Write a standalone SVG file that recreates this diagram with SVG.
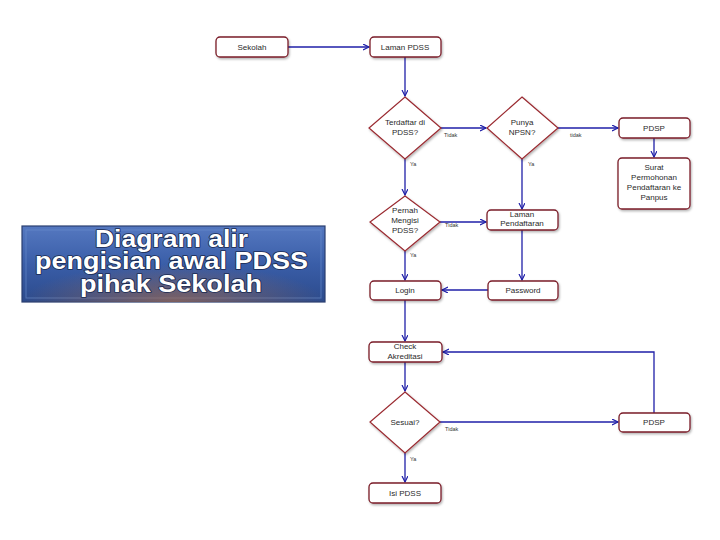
<svg xmlns="http://www.w3.org/2000/svg" width="720" height="540" viewBox="0 0 720 540">
<defs>
<marker id="ah" markerWidth="8" markerHeight="8" refX="6" refY="3" orient="auto" markerUnits="userSpaceOnUse">
<path d="M0,0 L6,3 L0,6" fill="none" stroke="#1f1fa8" stroke-width="1.2"/>
</marker>
<linearGradient id="tg" x1="0" y1="0" x2="0" y2="1">
<stop offset="0" stop-color="#5578c0"/>
<stop offset="0.5" stop-color="#3a5ea8"/>
<stop offset="1" stop-color="#2c4b8c"/>
</linearGradient>
<radialGradient id="tglow" cx="0.5" cy="1" r="0.5">
<stop offset="0" stop-color="#a06a50" stop-opacity="0.7"/>
<stop offset="1" stop-color="#a06a50" stop-opacity="0"/>
</radialGradient>
<filter id="sh" x="-20%" y="-20%" width="140%" height="160%">
<feDropShadow dx="1" dy="1.5" stdDeviation="1" flood-color="#000" flood-opacity="0.3"/>
</filter>
</defs>
<style>
.box{fill:#fff;stroke:#7a1c28;stroke-width:1.3;filter:url(#sh)}
.dia{fill:#fff;stroke:#9a2a30;stroke-width:1.2;filter:url(#sh)}
.t{font-family:"Liberation Sans",Arial,sans-serif;font-size:8px;fill:#2a2a2a;text-anchor:middle}
.lbl{font-family:"Liberation Sans",Arial,sans-serif;font-size:5.5px;fill:#333}
.c{fill:none;stroke:#1f1fa8;stroke-width:1.3}
.title{font-family:"Liberation Sans",Arial,sans-serif;font-weight:700;font-size:23px;fill:#fff;stroke:#1a2a50;stroke-width:1.6;paint-order:stroke;stroke-linejoin:round}
</style>
<rect width="720" height="540" fill="#fff"/>

<g id="title">
<rect x="22" y="226" width="303" height="76" fill="url(#tg)" stroke="#2a3f70" stroke-width="1.2"/>
<rect x="26" y="230" width="295" height="68" fill="none" stroke="#6d8fd0" stroke-width="1" opacity="0.6"/>
<rect x="22" y="226" width="303" height="76" fill="url(#tglow)"/>
<text class="title" x="95" y="247" textLength="153" lengthAdjust="spacingAndGlyphs">Diagram alir</text>
<text class="title" x="35" y="269" textLength="273" lengthAdjust="spacingAndGlyphs">pengisian awal PDSS</text>
<text class="title" x="80" y="292" textLength="182" lengthAdjust="spacingAndGlyphs">pihak Sekolah</text>
</g>

<g id="connectors">
<path class="c" d="M288,47 H369" marker-end="url(#ah)"/>
<path class="c" d="M405,57 V96" marker-end="url(#ah)"/>
<path class="c" d="M441,128 H486" marker-end="url(#ah)"/>
<path class="c" d="M558,128 H618" marker-end="url(#ah)"/>
<path class="c" d="M654,138 V157" marker-end="url(#ah)"/>
<path class="c" d="M405,159 V195" marker-end="url(#ah)"/>
<path class="c" d="M522,159 V209" marker-end="url(#ah)"/>
<path class="c" d="M440,222 H486" marker-end="url(#ah)"/>
<path class="c" d="M522,230 V280" marker-end="url(#ah)"/>
<path class="c" d="M488,290 H442" marker-end="url(#ah)"/>
<path class="c" d="M405,251 V280" marker-end="url(#ah)"/>
<path class="c" d="M405,300 V341" marker-end="url(#ah)"/>
<path class="c" d="M405,362 V391" marker-end="url(#ah)"/>
<path class="c" d="M440,422 H618" marker-end="url(#ah)"/>
<path class="c" d="M654,413 V352 H443" marker-end="url(#ah)"/>
<path class="c" d="M405,453 V482" marker-end="url(#ah)"/>
<text class="lbl" x="444" y="137">Tidak</text>
<text class="lbl" x="570" y="137">tidak</text>
<text class="lbl" x="410" y="166">Ya</text>
<text class="lbl" x="528" y="166">Ya</text>
<text class="lbl" x="445" y="227">Tidak</text>
<text class="lbl" x="410" y="257">Ya</text>
<text class="lbl" x="445" y="431">Tidak</text>
<text class="lbl" x="410" y="461">Ya</text>
</g>

<g id="sekolah"><rect class="box" x="216" y="37" width="72" height="20" rx="4"/><text class="t" x="252" y="50">Sekolah</text></g>
<g id="laman-pdss"><rect class="box" x="370" y="37" width="71" height="20" rx="4"/><text class="t" x="405" y="50">Laman PDSS</text></g>
<g id="terdaftar"><polygon class="dia" points="405,97 441,128 405,159 369,128"/><text class="t" x="405" y="125">Terdaftar di</text><text class="t" x="405" y="135">PDSS?</text></g>
<g id="punya-npsn"><polygon class="dia" points="522,97 558,128 522,159 487,128"/><text class="t" x="522" y="125">Punya</text><text class="t" x="522" y="135">NPSN?</text></g>
<g id="pdsp1"><rect class="box" x="619" y="118" width="71" height="20" rx="4"/><text class="t" x="654" y="131">PDSP</text></g>
<g id="surat"><rect class="box" x="618" y="158" width="72" height="51" rx="4"/><text class="t" x="654" y="170">Surat</text><text class="t" x="654" y="180">Permohonan</text><text class="t" x="654" y="190">Pendaftaran ke</text><text class="t" x="654" y="200">Panpus</text></g>
<g id="pernah"><polygon class="dia" points="405,196 440,222 405,251 370,222"/><text class="t" x="405" y="213">Pernah</text><text class="t" x="405" y="223">Mengisi</text><text class="t" x="405" y="233">PDSS?</text></g>
<g id="laman-pendaftaran"><rect class="box" x="487" y="210" width="71" height="20" rx="4"/><text class="t" x="522" y="217">Laman</text><text class="t" x="522" y="226">Pendaftaran</text></g>
<g id="login"><rect class="box" x="370" y="281" width="71" height="19" rx="4"/><text class="t" x="405" y="293">Login</text></g>
<g id="password"><rect class="box" x="488" y="281" width="70" height="19" rx="4"/><text class="t" x="523" y="293">Password</text></g>
<g id="check"><rect class="box" x="369" y="342" width="73" height="20" rx="4"/><text class="t" x="405" y="349">Check</text><text class="t" x="405" y="359">Akreditasi</text></g>
<g id="sesuai"><polygon class="dia" points="405,392 440,422 405,453 370,422"/><text class="t" x="405" y="425">Sesuai?</text></g>
<g id="pdsp2"><rect class="box" x="619" y="413" width="71" height="19" rx="4"/><text class="t" x="654" y="425">PDSP</text></g>
<g id="isi-pdss"><rect class="box" x="369" y="483" width="72" height="20" rx="4"/><text class="t" x="405" y="496">Isi PDSS</text></g>
</svg>
